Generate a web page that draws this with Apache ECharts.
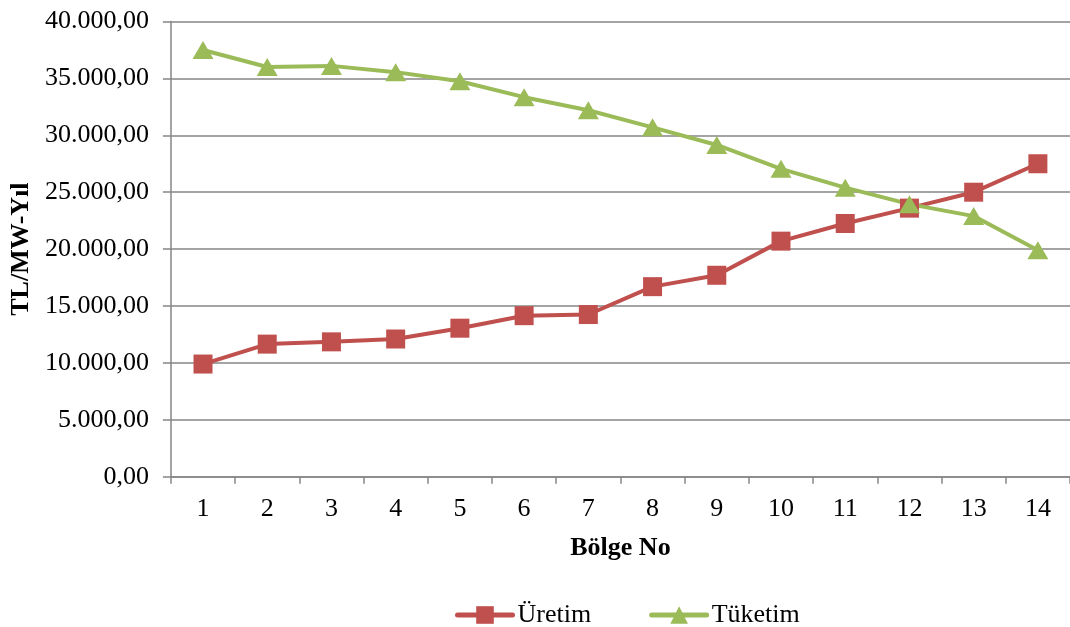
<!DOCTYPE html>
<html>
<head>
<meta charset="utf-8">
<script src="https://cdn.jsdelivr.net/npm/echarts@6/dist/echarts.min.js"></script>
<style>html,body{margin:0;padding:0;background:#fff}#c{width:1070px;height:627px}</style>
</head>
<body>
<div id="c"></div>
<script>
const categories = ['1','2','3','4','5','6','7','8','9','10','11','12','13','14'];
const uretim = [9900, 11650, 11850, 12100, 13050, 14150, 14250, 16700, 17700, 20700, 22250, 23600, 25000, 27500];
const tuketim = [37500, 36000, 36100, 35550, 34750, 33350, 32200, 30700, 29150, 27050, 25400, 23950, 22900, 19900];
const seriesNames = ['Üretim', 'Tüketim'];
const yAxisTitle = 'TL/MW-Yıl';
const xAxisTitle = 'Bölge No';

function trFormat(v) {
  const parts = Math.abs(v).toFixed(2).split('.');
  const intPart = parts[0].replace(/\B(?=(\d{3})+(?!\d))/g, '.');
  return (v < 0 ? '-' : '') + intPart + ',' + parts[1];
}

const font = '"Liberation Serif", "Times New Roman", serif';
const gray = '#868686';
const chart = echarts.init(document.getElementById('c'), null, {renderer: 'canvas'});
chart.setOption({
  animation: false,
  backgroundColor: '#fff',
  textStyle: {fontFamily: font},
  grid: {left: 168, top: 21.5, width: 902, height: 455.2, containLabel: false},
  xAxis: {
    type: 'category',
    data: categories,
    boundaryGap: true,
    name: xAxisTitle,
    nameLocation: 'middle',
    nameGap: 59,
    nameTextStyle: {fontFamily: font, fontSize: 26, fontWeight: 'bold', color: '#000'},
    axisLine: {lineStyle: {color: gray, width: 1.5}},
    axisTick: {show: true, length: 7, alignWithLabel: false, lineStyle: {color: gray, width: 1.5}},
    axisLabel: {fontFamily: font, fontSize: 26, color: '#000', margin: 19, interval: 0}
  },
  yAxis: {
    type: 'value',
    min: 0, max: 40000, interval: 5000,
    name: yAxisTitle,
    nameLocation: 'middle',
    nameGap: 131,
    nameRotate: 90,
    nameTextStyle: {fontFamily: font, fontSize: 26, fontWeight: 'bold', color: '#000'},
    axisLine: {show: true, lineStyle: {color: gray, width: 1.5}},
    axisTick: {show: true, length: 8, lineStyle: {color: gray, width: 1.5}},
    splitLine: {lineStyle: {color: gray, width: 1.5}},
    axisLabel: {fontFamily: font, fontSize: 26, color: '#000', margin: 22, formatter: trFormat}
  },
  legend: {
    top: 597,
    left: 450,
    itemWidth: 55,
    itemHeight: 22,
    itemGap: 58,
    textStyle: {fontFamily: font, fontSize: 26, color: '#000'},
    lineStyle: {width: 5, cap: 'round'},
    data: seriesNames
  },
  series: [
    {
      name: seriesNames[0], type: 'line', data: uretim,
      symbol: 'rect', symbolSize: 19,
      lineStyle: {color: '#C0504D', width: 4},
      itemStyle: {color: '#C0504D'}
    },
    {
      name: seriesNames[1], type: 'line', data: tuketim,
      symbol: 'triangle', symbolSize: [21, 18],
      lineStyle: {color: '#9BBB59', width: 4},
      itemStyle: {color: '#9BBB59'}
    }
  ]
});
</script>
</body>
</html>
